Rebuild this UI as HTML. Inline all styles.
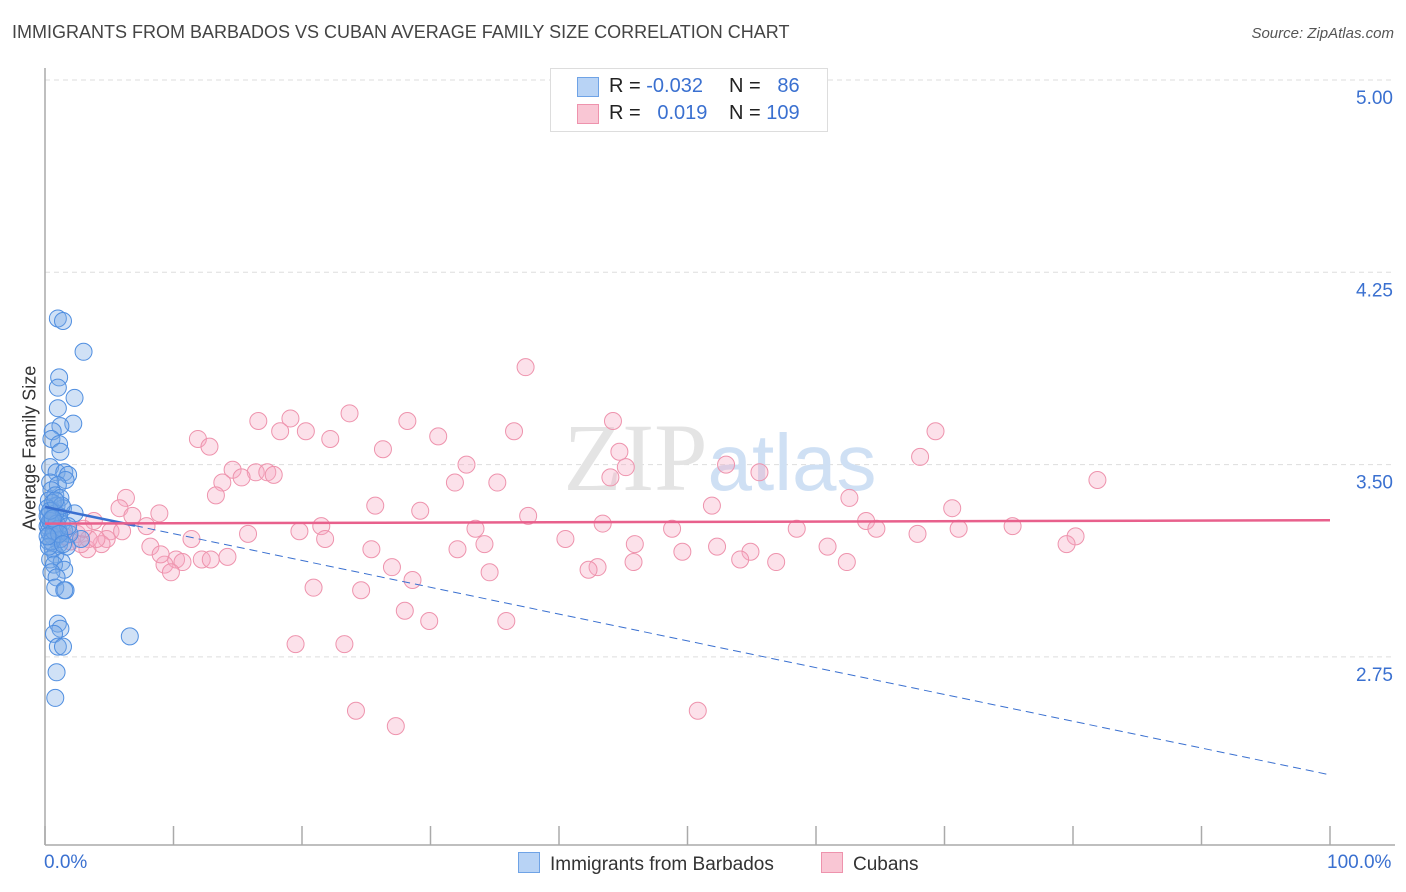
<!DOCTYPE html>
<html><head><meta charset="utf-8"><style>
body{margin:0;background:#fff;font-family:"Liberation Sans",sans-serif;}
#wrap{position:relative;width:1406px;height:892px;overflow:hidden;}
.t{position:absolute;white-space:nowrap;}
</style></head><body>
<div id="wrap">
<div class="t" style="left:12px;top:22px;font-size:18px;color:#444;">IMMIGRANTS FROM BARBADOS VS CUBAN AVERAGE FAMILY SIZE CORRELATION CHART</div>
<div class="t" style="right:12px;top:25px;font-size:15px;color:#555;font-style:italic;">Source: ZipAtlas.com</div>
<div class="t" style="left:-45px;top:445px;font-size:18px;color:#333;transform:rotate(-90deg);width:150px;text-align:center;">Average Family Size</div>
<svg id="plot" width="1406" height="892" style="position:absolute;left:0;top:0"></svg>
<div class="t" style="left:550px;top:68px;width:276px;height:62px;border:1px solid #ddd;background:#fff;font-size:20px;color:#222;">
 <div style="position:absolute;left:26px;top:8px;width:20px;height:18px;background:#b8d3f5;border:1px solid #6fa3e6;"></div>
 <div style="position:absolute;left:26px;top:35px;width:20px;height:18px;background:#f9c6d4;border:1px solid #ee93ad;"></div>
 <div class="t" style="left:58px;top:6px;">R = <span style="color:#3a70d0">-0.032</span></div>
 <div class="t" style="left:178px;top:6px;">N = <span style="color:#3a70d0">&nbsp;&nbsp;86</span></div>
 <div class="t" style="left:58px;top:33px;">R = <span style="color:#3a70d0">&nbsp;&nbsp;0.019</span></div>
 <div class="t" style="left:178px;top:33px;">N = <span style="color:#3a70d0">109</span></div>
</div>
<div class="t" style="left:44px;top:852px;font-size:19px;color:#3a70d0;">0.0%</div>
<div class="t" style="left:1327px;top:852px;font-size:19px;color:#3a70d0;">100.0%</div>
<div class="t" style="left:518px;top:852px;font-size:19px;color:#333;"><span style="display:inline-block;width:20px;height:19px;background:#b8d3f5;border:1px solid #6fa3e6;vertical-align:-3px;margin-right:10px"></span>Immigrants from Barbados</div>
<div class="t" style="left:821px;top:852px;font-size:19px;color:#333;"><span style="display:inline-block;width:20px;height:19px;background:#f9c6d4;border:1px solid #ee93ad;vertical-align:-3px;margin-right:10px"></span>Cubans</div>
</div>
<script>
const yTicks=[5.00,4.25,3.50,2.75];
const xTickPct=[0,10,20,30,40,50,60,70,80,90,100];
const blueX=[1,1.4,3,1.1,1,2.3,1,2.2,1.2,0.6,0.5,1.1,1.2,0.4,0.9,1.5,1.8,1.6,0.4,1.0,0.5,0.8,1.2,0.3,0.9,1.4,0.6,2.3,0.3,1.0,0.5,1.3,0.2,0.8,1.5,0.4,0.9,2.8,0.3,1.1,1.7,0.6,0.8,0.4,1.3,0.7,1.5,0.5,0.9,0.8,1.6,1.5,1.0,1.2,0.7,6.6,1.0,1.4,0.9,0.8,0.3,0.6,1.1,1.9,0.2,0.7,0.5,1.2,0.3,0.8,0.4,1.0,0.6,0.2,1.3,0.9,0.5,0.7,1.8,0.4,0.3,1.1,0.6,0.8,0.2,1.4];
const blueY=[4.07,4.06,3.94,3.84,3.80,3.76,3.72,3.66,3.65,3.63,3.60,3.58,3.55,3.49,3.47,3.47,3.46,3.44,3.43,3.42,3.40,3.38,3.37,3.36,3.34,3.33,3.32,3.31,3.30,3.29,3.28,3.27,3.26,3.25,3.24,3.23,3.22,3.21,3.20,3.19,3.18,3.17,3.15,3.13,3.12,3.11,3.09,3.08,3.06,3.02,3.01,3.01,2.88,2.86,2.84,2.83,2.79,2.79,2.69,2.59,3.27,3.35,3.30,3.23,3.33,3.26,3.29,3.21,3.24,3.31,3.28,3.25,3.22,3.30,3.34,3.27,3.20,3.24,3.26,3.32,3.18,3.23,3.29,3.36,3.22,3.19];
const pinkX=[37.4,16.6,19.1,23.7,28.2,44.2,36.5,69.3,11.9,12.8,18.3,20.3,22.2,30.6,26.3,44.7,68.1,32.8,45.2,53.0,55.6,14.6,16.4,17.3,17.8,15.3,13.8,31.9,35.2,44.0,81.9,6.3,13.3,62.6,25.7,29.2,51.9,70.6,5.8,8.9,6.8,37.6,3.8,63.9,43.4,48.8,21.5,33.5,58.5,64.7,71.1,75.3,7.9,19.8,5.1,67.9,80.2,2.5,4.8,11.4,15.8,21.8,40.5,4.4,8.2,25.4,32.1,34.2,45.9,52.3,54.9,60.9,79.5,3.3,14.2,49.6,10.2,10.7,9.3,12.2,27.0,54.1,56.9,62.4,45.8,12.9,43.0,42.3,34.6,9.8,28.6,20.9,24.6,28.0,29.9,35.9,19.5,23.3,24.2,27.3,50.8,3.4,4.0,2.0,1.5,6.0,2.8,9.0,3.0];
const pinkY=[3.88,3.67,3.68,3.70,3.67,3.67,3.63,3.63,3.60,3.57,3.63,3.63,3.60,3.61,3.56,3.55,3.53,3.50,3.49,3.50,3.47,3.48,3.47,3.47,3.46,3.45,3.43,3.43,3.43,3.45,3.44,3.37,3.38,3.37,3.34,3.32,3.34,3.33,3.33,3.31,3.30,3.30,3.28,3.28,3.27,3.25,3.26,3.25,3.25,3.25,3.25,3.26,3.26,3.24,3.24,3.23,3.22,3.23,3.21,3.21,3.23,3.21,3.21,3.19,3.18,3.17,3.17,3.19,3.19,3.18,3.16,3.18,3.19,3.17,3.14,3.16,3.13,3.12,3.11,3.13,3.10,3.13,3.12,3.12,3.12,3.13,3.10,3.09,3.08,3.08,3.05,3.02,3.01,2.93,2.89,2.89,2.80,2.80,2.54,2.48,2.54,3.21,3.21,3.20,3.22,3.24,3.19,3.15,3.25];
const blueTrend=[3.335,2.29];
const pinkTrend=[3.27,3.283];
const NS='http://www.w3.org/2000/svg';
const svg=document.getElementById('plot');
const X0=45,X1=1330,Y5=80,PX=256.4;
function sx(p){return X0+(X1-X0)*p/100;}
function sy(v){return Y5+(5-v)*PX;}
function mk(tag,attrs){const e=document.createElementNS(NS,tag);for(const k in attrs)e.setAttribute(k,attrs[k]);svg.appendChild(e);return e;}
yTicks.forEach(v=>{
 const g=mk('line',{x1:45,x2:1395,y1:sy(v),y2:sy(v),stroke:'#ddd','stroke-dasharray':'5,4'});
 
 
 const t=mk('text',{x:1393,y:sy(v)+24,'text-anchor':'end','font-size':19,fill:'#3a70d0','font-family':'Liberation Sans, sans-serif'});
 t.textContent=v.toFixed(2);
 
 
});
const ax=mk('line',{x1:45,x2:45,y1:68,y2:845,stroke:'#aaa','stroke-width':1.5});


const bx=mk('line',{x1:45,x2:1395,y1:845,y2:845,stroke:'#aaa','stroke-width':1.5});


xTickPct.forEach(p=>{
 const l=mk('line',{x1:sx(p),x2:sx(p),y1:826,y2:845,stroke:'#aaa','stroke-width':1.5});
 
 
});
const wm=mk('text',{x:720,y:490,'text-anchor':'middle','font-size':96,fill:'#e4e4e4','font-family':'Liberation Serif, serif'});
wm.innerHTML='ZIP<tspan fill="#cfe0f4" font-family="Liberation Sans, sans-serif" font-size="80">atlas</tspan>';


pinkX.forEach((x,i)=>{
 const c=mk('circle',{cx:sx(x),cy:sy(pinkY[i]),r:8.5,fill:'rgba(246,170,194,0.35)',stroke:'#ee93ad','stroke-width':1});
 
 
});
blueX.forEach((x,i)=>{
 const c=mk('circle',{cx:sx(x),cy:sy(blueY[i]),r:8.5,fill:'rgba(120,170,230,0.35)',stroke:'#4f8ee0','stroke-width':1});
 
 
});
function bt(p){return blueTrend[0]+(blueTrend[1]-blueTrend[0])*p/100;}
const b1=mk('line',{x1:sx(0),y1:sy(bt(0)),x2:sx(7),y2:sy(bt(7)),stroke:'#3a70d0','stroke-width':2.5});


const b2=mk('line',{x1:sx(7),y1:sy(bt(7)),x2:sx(100),y2:sy(bt(100)),stroke:'#3a70d0','stroke-width':1,'stroke-dasharray':'8,5'});


const p1=mk('line',{x1:sx(0),y1:sy(pinkTrend[0]),x2:sx(100),y2:sy(pinkTrend[1]),stroke:'#e8608c','stroke-width':2.5});


</script>
</body></html>
